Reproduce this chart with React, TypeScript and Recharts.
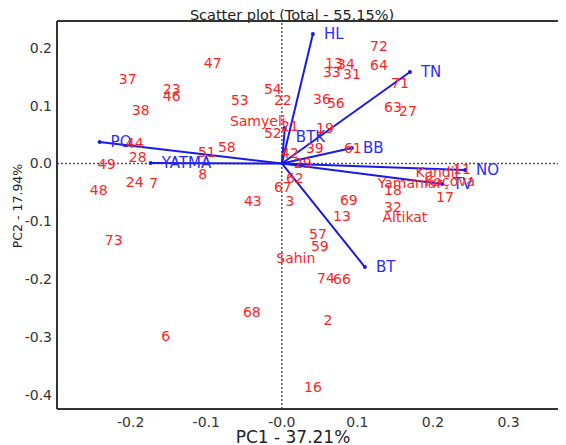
import {
	Customized,
	ReferenceLine,
	Scatter,
	ScatterChart,
	XAxis,
	YAxis,
} from 'recharts'

// observations (red labels)
const OBS_LABELS = [
	'72', '13', '34', '33', '31', '64', '71', '36', '56', '63', '27', '19', '39', '61',
	'11', 'Kandil', 'Yamanlar', 'Koçova', '18', '17', '69', '13', '32', 'Altikat', '57',
	'59', 'Sahin', '74', '66', '68', '2', '6', '16', '67', '62', '3', '43', '73', '48',
	'24', '7', '8', '49', '28', '44', '51', '58', '47', '37', '23', '46', '38', '53',
	'54', '22', 'Samyeli', '52', '21', '42', '29',
]
const OBS_PC1 = [
	0.1285, 0.0689, 0.0848, 0.0662, 0.0927, 0.1285, 0.1563, 0.053, 0.0715, 0.147, 0.1669, 0.057, 0.0437, 0.094,
	0.2384, 0.2053, 0.1695, 0.2225, 0.147, 0.2159, 0.0887, 0.0795, 0.147, 0.1629, 0.0477,
	0.0503, 0.0185, 0.0583, 0.0795, -0.0397, 0.0609, -0.1536, 0.0411, 0.0013, 0.0172, 0.0106, -0.0384, -0.2225, -0.2424,
	-0.1947, -0.1695, -0.1046, -0.2318, -0.1907, -0.1947, -0.0993, -0.0728, -0.0914, -0.204, -0.1457, -0.1457, -0.1868, -0.0556,
	-0.0119, 0.0013, -0.0318, -0.0119, 0.0106, 0.0106, 0.0278,
]
const OBS_PC2 = [
	0.2033, 0.1739, 0.1721, 0.1583, 0.1548, 0.1704, 0.1393, 0.1116, 0.1047, 0.0978, 0.0908, 0.0614, 0.0268, 0.0268,
	-0.0095, -0.0147, -0.0337, -0.0303, -0.0458, -0.058, -0.0631, -0.0908, -0.0753, -0.0926, -0.122,
	-0.1427, -0.1635, -0.1981, -0.1998, -0.2569, -0.2708, -0.2984, -0.3867, -0.0407, -0.0251, -0.0649, -0.0649, -0.1324, -0.0458,
	-0.032, -0.0337, -0.0182, -0.0009, 0.0112, 0.0355, 0.0199, 0.0285, 0.1739, 0.1462, 0.1289, 0.1168, 0.0926, 0.1099,
	0.1289, 0.1099, 0.0735, 0.0528, 0.0649, 0.0182, 0.0009,
]

// variable loadings (blue vectors)
const VAR_LABELS = ['HL', 'TN', 'BTK', 'BB', 'NO', 'TV', 'BT', 'PO', 'YATMA']
const VAR_PC1 = [0.0411, 0.1695, 0.004, 0.0927, 0.2424, 0.2119, 0.1099, -0.2411, -0.1735]
const VAR_PC2 = [0.224, 0.1583, 0.0614, 0.0268, -0.0112, -0.0355, -0.1791, 0.0372, 0.0009]

const PC1_TICKS = [-0.2, -0.1, 0, 0.1, 0.2, 0.3]
const PC2_TICKS = [0.2, 0.1, 0, -0.1, -0.2, -0.3, -0.4]

const X_MIN = -0.2975
const X_MAX = 0.376
const Y_MIN = -0.4247
const Y_MAX = 0.2465

const RED = '#ff1f1f'
const BLUE = '#1a1ae6'
const BLUE_TEXT = '#2b2bff'
const AXIS = '#333'
const FONT = '"DejaVu Sans", sans-serif'

const obsData = OBS_LABELS.map((name, i) => ({ x: OBS_PC1[i], y: OBS_PC2[i], name }))

const ObsLabel = (p: any) => (
	<text
		x={p.cx}
		y={p.cy}
		textAnchor='middle'
		dominantBaseline='central'
		fill={RED}
		fontSize={14}
		fontFamily={FONT}
	>
		{p.payload.name}
	</text>
)

const VarEnd = (p: any) => {
	if (!p.payload.name) return <g />
	const dy = p.payload.name === 'BTK' ? 9 : 0
	return (
		<g>
			<circle cx={p.cx} cy={p.cy} r={2} fill={BLUE} />
			<text
				x={p.cx + 11}
				y={p.cy + dy}
				dominantBaseline='central'
				fill={BLUE_TEXT}
				fontSize={15}
				fontFamily={FONT}
			>
				{p.payload.name}
			</text>
		</g>
	)
}

const Titles = () => (
	<g fontFamily={FONT}>
		<text x={284} y={11.5} textAnchor='middle' fontSize={14.5} fill='#222'>
			Scatter plot (Total - 55.15%)
		</text>
		<text x={285} y={435} textAnchor='middle' fontSize={17} fill='#222'>
			PC1 - 37.21%
		</text>
		<text
			x={9}
			y={198}
			textAnchor='middle'
			dominantBaseline='central'
			fontSize={12.5}
			fill='#222'
			transform='rotate(-90 9 198)'
		>
			PC2 - 17.94%
		</text>
	</g>
)

export default function App() {
	return (
		<div style={{ fontFamily: FONT }}>
			<ScatterChart
				width={558}
				height={437}
				margin={{ top: 13, right: 0, bottom: 0, left: 0 }}
			>
				<XAxis
					type='number'
					dataKey='x'
					domain={[X_MIN, X_MAX]}
					ticks={PC1_TICKS}
					allowDataOverflow
					height={36}
					tickFormatter={(v: number) => (v === 0 ? '-0.0' : v.toFixed(1))}
					tickLine={false}
					tickSize={0}
					tickMargin={8}
					tick={{ fontSize: 14, fill: AXIS, fontFamily: FONT }}
					axisLine={{ stroke: AXIS, strokeWidth: 2 }}
				/>
				<YAxis
					type='number'
					dataKey='y'
					domain={[Y_MIN, Y_MAX]}
					ticks={PC2_TICKS}
					allowDataOverflow
					width={49}
					tickFormatter={(v: number) => (v === 0 ? '0.0' : v.toFixed(1))}
					tickLine={false}
					tickSize={0}
					tickMargin={5}
					tick={{ fontSize: 14, fill: AXIS, fontFamily: FONT }}
					axisLine={{ stroke: AXIS, strokeWidth: 2 }}
				/>
				<ReferenceLine y={Y_MAX} stroke={AXIS} strokeWidth={2} />
				<ReferenceLine x={0} stroke='#555' strokeWidth={1.5} strokeDasharray='2 2' />
				<ReferenceLine y={0} stroke='#555' strokeWidth={1.5} strokeDasharray='2 2' />
				{VAR_LABELS.map((name, i) => (
					<Scatter
						key={name}
						data={[
							{ x: 0, y: 0, name: '' },
							{ x: VAR_PC1[i], y: VAR_PC2[i], name },
						]}
						line={{ stroke: BLUE, strokeWidth: 2 }}
						shape={VarEnd}
						isAnimationActive={false}
					/>
				))}
				<Scatter data={obsData} shape={ObsLabel} isAnimationActive={false} />
				<Customized component={Titles} />
			</ScatterChart>
		</div>
	)
}
